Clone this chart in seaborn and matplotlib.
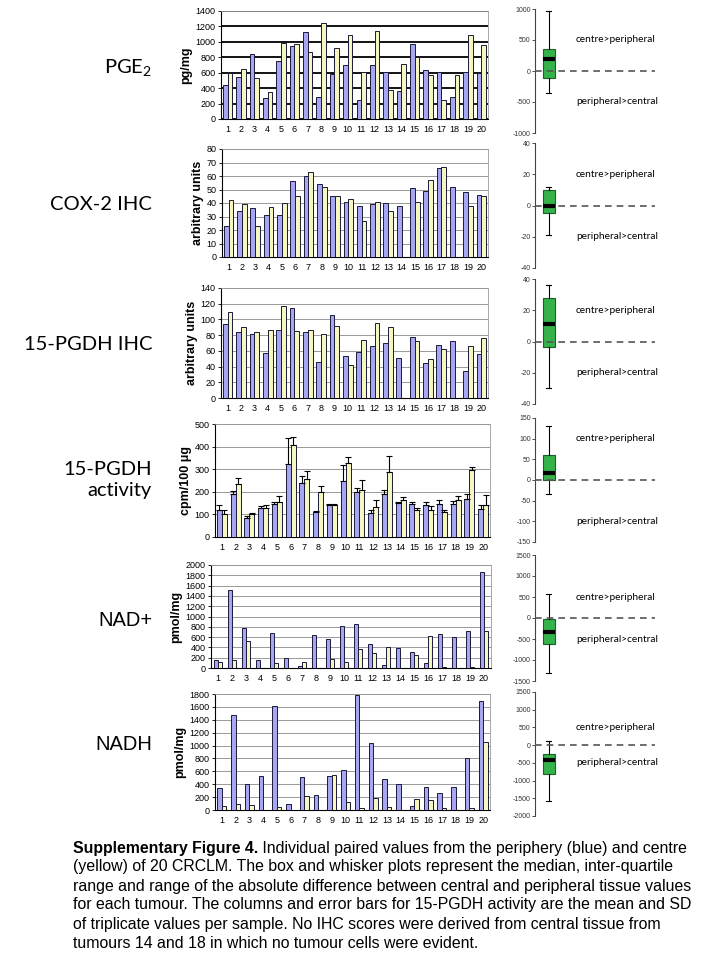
import numpy as np
import pandas as pd
import matplotlib
matplotlib.use("Agg")
import matplotlib.pyplot as plt
import seaborn as sns

plt.rcParams['font.family'] = ['Liberation Sans', 'DejaVu Sans']
plt.rcParams['mathtext.fontset'] = 'custom'
plt.rcParams['mathtext.rm'] = 'Lato'
plt.rcParams['mathtext.it'] = 'Lato'
plt.rcParams['axes.unicode_minus'] = False

# -----------------------------
# Data (periphery = blue, centre = yellow)
# -----------------------------
tumours = ["1", "2", "3", "4", "5", "6", "7", "8", "9", "10",
           "11", "12", "13", "14", "15", "16", "17", "18", "19", "20"]

pge2_periph = [440, 540, 840, 270, 750, 950, 1130, 280, 580, 700,
               240, 700, 610, 360, 970, 630, 610, 280, 610, 590]
pge2_centre = [590, 650, 530, 350, 990, 970, 870, 1250, 920, 1090,
               610, 1140, 370, 710, 810, 570, 240, 570, 1090, 960]

cox2_periph = [23, 34, 36, 31, 31, 56, 60, 54, 45, 41,
               38, 39, 40, 38, 51, 49, 66, 52, 48, 46]
cox2_centre = [42, 39, 23, 37, 40, 45, 63, 52, 45, 43,
               27, 41, 34, np.nan, 41, 57, 67, np.nan, 38, 45]

pgdh_periph = [94, 84, 81, 57, 86, 114, 84, 46, 105, 53,
               59, 66, 70, 51, 77, 44, 67, 73, 35, 56]
pgdh_centre = [110, 90, 84, 86, 117, 85, 87, 82, 91, 42,
               74, 95, 90, np.nan, 73, 50, 62, np.nan, 66, 76]

act_periph = [120, 190, 85, 130, 145, 325, 240, 112, 140, 250,
              200, 107, 192, 152, 145, 140, 145, 145, 170, 125]
act_periph_sd = [20, 12, 10, 5, 10, 115, 30, 3, 8, 70,
                 15, 12, 18, 5, 8, 15, 20, 15, 20, 15]
act_centre = [100, 235, 102, 130, 155, 408, 257, 197, 140, 326,
              206, 131, 288, 165, 120, 120, 110, 165, 298, 142]
act_centre_sd = [20, 28, 3, 10, 25, 35, 35, 27, 8, 30,
                 48, 34, 72, 10, 8, 18, 10, 15, 10, 42]

nad_periph = [155, 1510, 775, 150, 685, 190, 30, 640, 560, 815,
              850, 465, 50, 395, 315, 100, 660, 605, 720, 1860]
nad_centre = [125, 150, 525, 0, 100, 0, 120, 0, 170, 110,
              360, 300, 405, 0, 250, 625, 10, 0, 10, 710]

nadh_periph = [336, 1475, 398, 522, 1620, 95, 512, 233, 520, 615,
               1780, 1035, 480, 410, 60, 352, 265, 362, 802, 1688]
nadh_centre = [62, 90, 70, 0, 40, 0, 212, 0, 538, 130,
               30, 190, 40, 0, 170, 160, 30, 0, 30, 1055]

# box stats: [min, q1, median, q3, max] of centre - periphery
box_pge2 = [-350, -110, 190, 360, 970]
box_cox2 = [-19, -4.5, 0, 10, 12]
box_pgdh = [-30, -3.5, 11, 28, 36]
box_act = [-35, -1, 16, 60, 130]
box_nad = [-1320, -630, -340, -15, 560]
box_nadh = [-1590, -810, -430, -240, 110]

# tick values
pge2_ticks = [0, 200, 400, 600, 800, 1000, 1200, 1400]
cox2_ticks = [0, 10, 20, 30, 40, 50, 60, 70, 80]
pgdh_ticks = [0, 20, 40, 60, 80, 100, 120, 140]
act_ticks = [0, 100, 200, 300, 400, 500]
nad_ticks = [0, 200, 400, 600, 800, 1000, 1200, 1400, 1600, 1800, 2000]
nadh_ticks = [0, 200, 400, 600, 800, 1000, 1200, 1400, 1600, 1800]
box_pge2_ticks = [-1000, -500, 0, 500, 1000]
box_ihc_ticks = [-40, -20, 0, 20, 40]
box_act_ticks = [-150, -100, -50, 0, 50, 100, 150]
box_nad_ticks = [-1500, -1000, -500, 0, 500, 1000, 1500]
box_nadh_ticks = [-2000, -1500, -1000, -500, 0, 500, 1000, 1500]

row_labels = ["PGE$_2$", "COX-2 IHC", "15-PGDH IHC", "15-PGDH\nactivity", "NAD+", "NADH"]

caption_bold = "Supplementary Figure 4."
caption_lines = [
    " Individual paired values from the periphery (blue) and centre",
    "(yellow) of 20 CRCLM. The box and whisker plots represent the median, inter-quartile",
    "range and range of the absolute difference between central and peripheral tissue values",
    "for each tumour. The columns and error bars for 15-PGDH activity are the mean and SD",
    "of triplicate values per sample. No IHC scores were derived from central tissue from",
    "tumours 14 and 18 in which no tumour cells were evident.",
]

BLUE = "#9999ff"
YELLOW = "#ffffb8"
W, H = 720, 960

fig = plt.figure(figsize=(7.2, 9.6), dpi=100)


def px_axes(x0, y0, x1, y1):
    return fig.add_axes([x0 / W, 1 - y1 / H, (x1 - x0) / W, (y1 - y0) / H])


# -----------------------------
# Bar panels
# -----------------------------
def bar_panel(rect, periph, centre, ticks, ylabel, width=0.72, grid_color="#999999",
              grid_lw=0.7, periph_sd=None, centre_sd=None, labelpad=2):
    ax = px_axes(*rect)
    df = pd.DataFrame({
        "tumour": tumours * 2,
        "site": ["periphery"] * 20 + ["centre"] * 20,
        "value": list(periph) + list(centre),
    }).dropna()
    sns.barplot(data=df, x="tumour", y="value", hue="site", order=tumours,
                hue_order=["periphery", "centre"],
                palette={"periphery": BLUE, "centre": YELLOW},
                edgecolor="#1a1a3a", linewidth=0.7, width=width, gap=0,
                errorbar=None, legend=False, ax=ax, zorder=3)
    if periph_sd is not None:
        for cont, sd in zip(ax.containers[:2], [periph_sd, centre_sd]):
            xs = [b.get_x() + b.get_width() / 2 for b in cont]
            ys = [b.get_height() for b in cont]
            ax.errorbar(xs, ys, yerr=[np.zeros(len(sd)), sd], fmt="none",
                        ecolor="black", elinewidth=0.8, capsize=2.5, capthick=0.8, zorder=4)
    ax.set_xlim(-0.5, 19.5)
    ax.set_ylim(ticks[0], ticks[-1])
    ax.set_yticks(ticks)
    ax.yaxis.grid(True, color=grid_color, linewidth=grid_lw, zorder=0)
    ax.set_axisbelow(True)
    ax.set_xlabel("")
    ax.set_ylabel(ylabel, fontsize=9, fontweight="bold", labelpad=labelpad)
    ax.tick_params(axis="x", length=0, labelsize=6.5, pad=4)
    ax.tick_params(axis="y", length=2.5, width=0.6, labelsize=6.5, pad=1.5)
    for side in ["top", "right"]:
        ax.spines[side].set_color("#999999")
        ax.spines[side].set_linewidth(0.6)
    for side in ["left", "bottom"]:
        ax.spines[side].set_color("black")
        ax.spines[side].set_linewidth(0.8)
    return ax


bar_panel((221, 11, 488, 119), pge2_periph, pge2_centre, pge2_ticks, "pg/mg",
          width=0.7, grid_color="black", grid_lw=1.3)
bar_panel((222, 149, 488, 257), cox2_periph, cox2_centre, cox2_ticks, "arbitrary units")
bar_panel((221, 288, 488, 398), pgdh_periph, pgdh_centre, pgdh_ticks, "arbitrary units")
bar_panel((215, 424, 490, 537), act_periph, act_centre, act_ticks, "cpm/100 \u03bcg",
          width=0.74, periph_sd=act_periph_sd, centre_sd=act_centre_sd)
bar_panel((211, 565, 491, 668), nad_periph, nad_centre, nad_ticks, "pmol/mg", width=0.58)
bar_panel((215, 694, 490, 810), nadh_periph, nadh_centre, nadh_ticks, "pmol/mg", width=0.65)


# -----------------------------
# Box and whisker panels
# -----------------------------
def box_panel(rect, stats, ticks, text_y):
    ax = px_axes(*rect)
    lo, q1, med, q3, hi = stats
    ax.bxp([{"whislo": lo, "q1": q1, "med": med, "q3": q3, "whishi": hi, "fliers": []}],
           positions=[0], widths=0.48, capwidths=0.2, patch_artist=True, manage_ticks=False,
           boxprops=dict(facecolor="#35b34a", edgecolor="#1e5e28", linewidth=0.8),
           medianprops=dict(color="black", linewidth=3, zorder=5),
           whiskerprops=dict(color="black", linewidth=0.8),
           capprops=dict(color="black", linewidth=0.8))
    ax.axhline(0, xmin=0, xmax=0.96, color="#555555", linestyle=(0, (4, 3)),
               linewidth=1.2, zorder=3)
    ax.set_xlim(-0.55, 4.45)
    ax.set_ylim(ticks[0], ticks[-1])
    ax.set_yticks(ticks)
    ax.set_xticks([])
    ax.tick_params(axis="y", length=2, width=0.6, labelsize=5, pad=1, colors="#333333")
    for side in ["top", "right", "bottom"]:
        ax.spines[side].set_visible(False)
    ax.spines["left"].set_color("#444444")
    ax.spines["left"].set_linewidth(0.8)
    ax.patch.set_alpha(0)
    ax.text(1.09, text_y[0], "centre>peripheral", fontsize=7.3, family="Lato", va="center")
    ax.text(1.09, text_y[1], "peripheral>central", fontsize=7.3, family="Lato", va="center")


box_panel((535, 9, 660, 133), box_pge2, box_pge2_ticks, (500, -500))
box_panel((535, 143, 660, 268), box_cox2, box_ihc_ticks, (20, -20))
box_panel((535, 279, 660, 404), box_pgdh, box_ihc_ticks, (20, -20))
box_panel((535, 418, 660, 542), box_act, box_act_ticks, (100, -100))
box_panel((535, 555, 660, 681), box_nad, box_nad_ticks, (500, -500))
box_panel((535, 692, 660, 816), box_nadh, box_nadh_ticks, (500, -500))

# -----------------------------
# Row labels
# -----------------------------
label_y = [68, 204, 345, 480, 620, 744]
for i, lab in enumerate(row_labels):
    fam = "Liberation Sans" if lab.startswith("NAD") else "Lato"
    fig.text(152 / W, 1 - label_y[i] / H, lab, ha="right", va="center",
             multialignment="right", fontsize=14.5, family=fam, linespacing=1.3)

# -----------------------------
# Caption
# -----------------------------
renderer = fig.canvas.get_renderer()
cap_x = 73 / W
t = fig.text(cap_x, 1 - 848 / H, caption_bold, fontsize=11.4, fontweight="bold", va="center")
bb = t.get_window_extent(renderer)
for i, line in enumerate(caption_lines):
    x = bb.x1 / W if i == 0 else cap_x
    fig.text(x, 1 - (848 + 19 * i) / H, line, fontsize=11.4, va="center")

plt.savefig("out.png", dpi=100)
